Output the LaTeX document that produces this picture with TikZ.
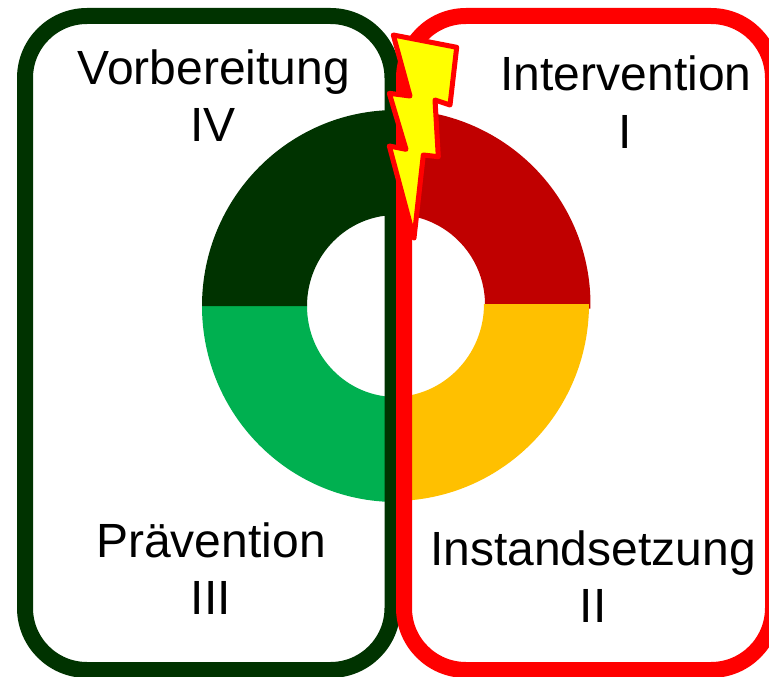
\documentclass[tikz,border=0pt]{standalone}
\usepackage{fontspec}
\setmainfont{Liberation Sans}
\definecolor{ringred}{HTML}{C00000}
\definecolor{ringamber}{HTML}{FFC000}
\definecolor{ringgreen}{HTML}{00B050}
\definecolor{darkgreen}{HTML}{003300}
\definecolor{framered}{HTML}{FF0000}
\definecolor{boltyellow}{HTML}{FFFF00}
\tikzset{
  frame/.style={draw=#1,line width=16pt,rounded corners=62pt},
  bolt/.style={draw=framered,fill=boltyellow,line width=5pt,line join=round},
  label/.style={anchor=base,inner sep=0pt,text=black,font=\fontsize{48pt}{48pt}\selectfont}
}
% colour, centre, start angle, end angle, outer rx, outer ry, inner rx, inner ry
\newcommand{\ringband}[8]{%
  \fill[#1] ([shift={(#3:#5pt and #6pt)}]#2) arc[start angle=#3,end angle=#4,x radius=#5pt,y radius=#6pt]
    -- ([shift={(#4:#7pt and #8pt)}]#2) arc[start angle=#4,end angle=#3,x radius=#7pt,y radius=#8pt] -- cycle;}
\begin{document}
\begin{tikzpicture}[x=1pt,y=1pt]
\useasboundingbox (0,0) rectangle (769,-677);
\clip (0,0) rectangle (769,-677);
\fill[white] (0,0) rectangle (769,-677);
% ring
\ringband{ringred}{395,-304.5}{90}{-1.2}{195.5}{195}{90}{90}
\ringband{ringamber}{393,-304}{0}{-90}{196}{197}{91}{93}
\ringband{ringgreen}{396,-306}{180}{270}{194}{196}{89}{91}
\ringband{darkgreen}{396,-306}{90}{180}{194}{196}{89}{91}
% frames
\draw[frame=darkgreen] (25,-16) rectangle (392.5,-670);
\draw[frame=framered] (404,-16) rectangle (773,-670);
% lightning bolt
\draw[bolt] (393.3,-35) -- (456.7,-47.3) -- (450,-105) -- (435,-100) -- (438.3,-156.7)
  -- (423.3,-155) -- (414,-238) -- (389.3,-146) -- (406,-149.3) -- (389.3,-93.3) -- (410,-96) -- cycle;
% labels
\node[label] (vorb) at (214,-84.5) {Vorbereitung};
\node[label] (iv) at (213,-141) {IV};
\node[label] (interv) at (626,-91) {Intervention};
\node[label] (i) at (625,-148) {I};
\node[label] (praev) at (211,-557.5) {Prävention};
\node[label] (iii) at (211,-614) {III};
\node[label] (inst) at (593,-565) {Instandsetzung};
\node[label] (ii) at (593,-622) {II};
\end{tikzpicture}
\end{document}
